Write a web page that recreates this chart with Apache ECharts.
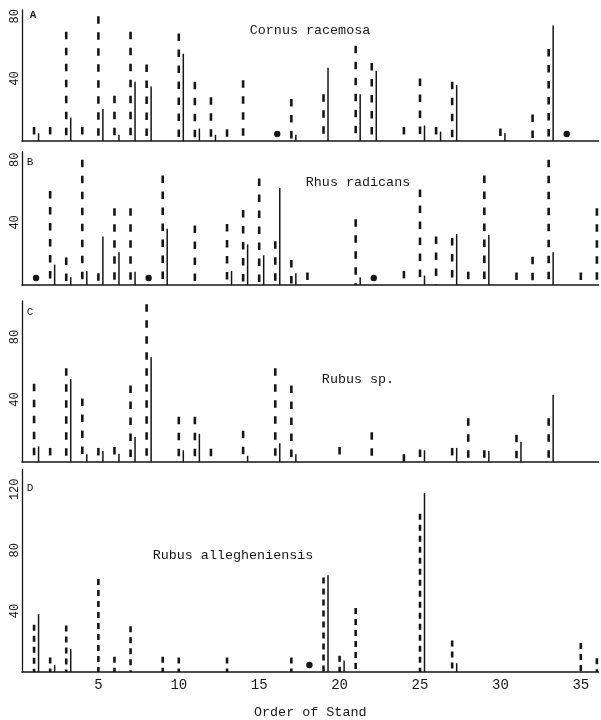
<!DOCTYPE html>
<html><head><meta charset="utf-8">
<script src="https://cdn.jsdelivr.net/npm/echarts@6/dist/echarts.min.js"></script>
<style>html,body{margin:0;padding:0;background:#fff}#c{width:601px;height:720px}</style>
</head><body><div id="c"></div>
<script>
// ---- data ----
const stands = [1,2,3,4,5,6,7,8,9,10,11,12,13,14,15,16,17,18,19,20,21,22,23,24,25,26,27,28,29,30,31,32,33,34,35,36];
const xTicks = [5,10,15,20,25,30,35];
const xTitle = 'Order of Stand';

const panelLetters = ['A','B','C','D'];
const speciesNames = ['Cornus racemosa','Rhus radicans','Rubus sp.','Rubus allegheniensis'];
const yTicksA = [40,80], yTicksB = [40,80], yTicksC = [40,80], yTicksD = [40,80,120];

const cornusDashed = [9,9,70,9,80,29,70,49,null,69,38,28,7.5,39,null,null,27,null,30,null,61,50,null,9,40,9,38,null,null,8,null,17,59,null,null,null];
const cornusSolid  = [5,null,15,null,20.5,4,38,35,null,56,8,4,null,null,null,null,4,null,47,null,30,45,null,null,10,6,36,null,null,5,null,null,74,null,null,null];
const cornusDots   = [16,34];

const rhusDashed = [null,60,17.5,80,7.5,49,49,null,70,null,38,null,39,48,68,28,16,8,null,null,42,null,null,9,61,31,30,8.5,70,null,8,18,80,null,8,49];
const rhusSolid  = [null,13,5,9,31,21,8.5,null,36,null,null,null,9,26,19,62,7.5,null,null,null,5,null,null,null,6,null,32.5,null,32,null,null,null,21,null,null,null];
const rhusDots   = [1,8,22];

const rubusDashed = [50,9,60,40.6,9,9.6,49,101,null,29,29,8.5,null,20,null,60,49,null,null,9.6,null,19,null,5,8,null,9,28,7.5,null,17.5,null,28,null,null,null];
const rubusSolid  = [10,null,53,5,7,5.3,16,67,null,7.5,18,null,null,4,null,12,5,null,null,null,null,null,null,null,7.5,null,9,null,7,null,13,null,43,null,null,null];
const rubusDots   = [];

const allegDashed = [31,9.6,30.5,null,61,10,30,null,10,9.6,null,null,9.6,null,null,null,9.6,null,62,10.7,42,null,null,null,104,null,20.7,null,null,null,null,null,null,null,19,9];
const allegSolid  = [38,4.7,15,null,null,null,null,null,null,null,null,null,null,null,null,null,null,null,63.5,7.5,null,null,null,null,117.5,null,5.8,null,null,null,null,null,null,null,null,null];
const allegDots   = [18];

// ---- layout / style ----
const INK = '#161616';
const MONO = '"Liberation Mono", "DejaVu Sans Mono", monospace';
const panels = [
  {top:10,    height:131,   max:84,  yTicks:yTicksA, dashed:cornusDashed, solid:cornusSolid, dots:cornusDots, dash:[7.5,8.5], title:[310,30],  letter:[33,15.5], bold:true},
  {top:152,   height:133,   max:85,  yTicks:yTicksB, dashed:rhusDashed,   solid:rhusSolid,   dots:rhusDots,   dash:[7.5,8.5], title:[358,182], letter:[30,162]},
  {top:301,   height:161,   max:103, yTicks:yTicksC, dashed:rubusDashed,  solid:rubusSolid,  dots:rubusDots,  dash:[7.5,8.5], title:[358,379], letter:[30,312]},
  {top:469.5, height:207.5, max:133, yTicks:yTicksD, dashed:allegDashed,  solid:allegSolid,  dots:allegDots,  dash:[6,5],     title:[233,555], letter:[30,488]}
];

function pairs(arr){ const out=[]; arr.forEach((v,i)=>{ if(v!=null) out.push([stands[i], v]); }); return out; }

const grid=[], xAxis=[], yAxis=[], series=[], graphic=[];
panels.forEach((p,idx)=>{
  const last = idx === panels.length-1;
  grid.push({left:22, width:576.5, top:p.top, height:p.height});
  xAxis.push({
    type:'value', gridIndex:idx, min:0.25, max:36.1,
    axisLine:{show:true, lineStyle:{color:INK, width:1.5}},
    axisTick:{show:false}, splitLine:{show:false},
    axisLabel: last ? {show:true, customValues:xTicks, margin:6, fontFamily:MONO, fontSize:14, color:INK} : {show:false},
    name: last ? xTitle : '', nameLocation:'middle', nameGap:34,
    nameTextStyle:{fontFamily:MONO, fontSize:13.4, color:INK}
  });
  yAxis.push({
    type:'value', gridIndex:idx, min:0, max:p.max,
    axisLine:{show:true, lineStyle:{color:INK, width:1.3}},
    axisTick:{show:false}, splitLine:{show:false},
    axisLabel:{show:true, customValues:p.yTicks, rotate:90, margin:1, fontFamily:MONO, fontSize:12, color:INK}
  });
  const dash = p.dash;
  series.push({
    type:'custom', xAxisIndex:idx, yAxisIndex:idx, data:pairs(p.dashed), silent:true,
    renderItem:(params, api)=>{
      const t = api.coord([api.value(0), api.value(1)]), b = api.coord([api.value(0), 0]);
      return {type:'line', shape:{x1:t[0], y1:t[1], x2:b[0], y2:b[1]}, style:{stroke:INK, lineWidth:2.6, lineDash:dash, lineCap:'butt'}};
    }
  });
  series.push({
    type:'custom', xAxisIndex:idx, yAxisIndex:idx, data:pairs(p.solid), silent:true,
    renderItem:(params, api)=>{
      const t = api.coord([api.value(0), api.value(1)]), b = api.coord([api.value(0), 0]);
      return {type:'line', shape:{x1:t[0]+4.5, y1:t[1], x2:b[0]+4.5, y2:b[1]}, style:{stroke:INK, lineWidth:1.5}};
    }
  });
  series.push({
    type:'custom', xAxisIndex:idx, yAxisIndex:idx, data:p.dots.map(k=>[k]), silent:true,
    renderItem:(params, api)=>{
      const c = api.coord([api.value(0), 0]);
      return {type:'circle', shape:{cx:c[0]+2, cy:c[1]-7, r:3.2}, style:{fill:INK}};
    }
  });
  graphic.push({type:'text', x:p.title[0], y:p.title[1], silent:true,
    style:{text:speciesNames[idx], font:'13.4px '+MONO, fill:INK, align:'center', verticalAlign:'middle'}});
  graphic.push({type:'text', x:p.letter[0], y:p.letter[1], silent:true,
    style:{text:panelLetters[idx], font:(p.bold?'bold ':'')+'11px '+MONO, fill:INK, align:'center', verticalAlign:'middle'}});
});

const chart = echarts.init(document.getElementById('c'), null, {renderer:'canvas'});
chart.setOption({backgroundColor:'#fff', animation:false, grid, xAxis, yAxis, series, graphic});
</script>
</body></html>
